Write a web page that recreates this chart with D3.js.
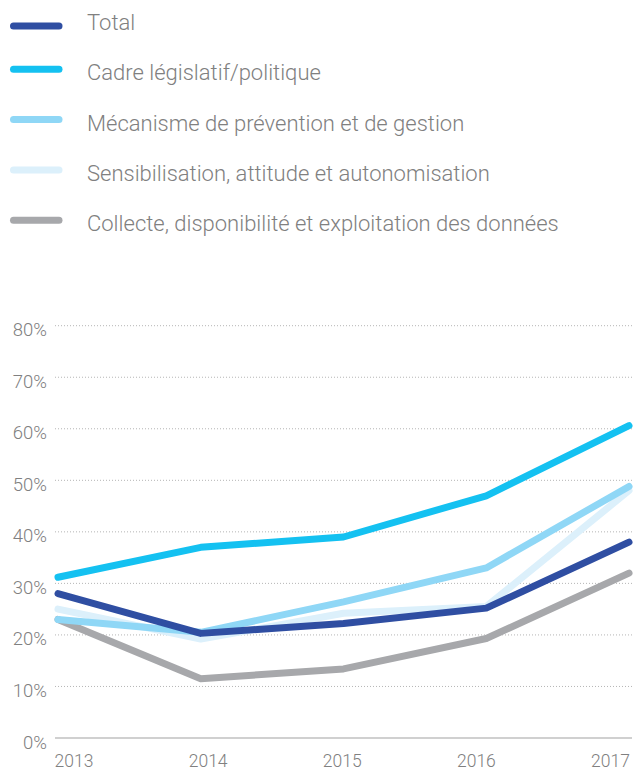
<!DOCTYPE html>
<html>
<head>
<meta charset="utf-8">
<script src="https://cdn.jsdelivr.net/npm/d3@7"></script>
<style>
  html, body { margin: 0; padding: 0; background: #fff; }
  svg { display: block; font-family: Roboto, "Liberation Sans", sans-serif; font-weight: 300; }
</style>
</head>
<body>
<svg id="chart" width="640" height="771"></svg>
<script>
const years = ["2013", "2014", "2015", "2016", "2017"];
const seriesNames = [
  "Total",
  "Cadre législatif/politique",
  "Mécanisme de prévention et de gestion",
  "Sensibilisation, attitude et autonomisation",
  "Collecte, disponibilité et exploitation des données"
];
const seriesColors = ["#2f4ea2", "#14c1f1", "#8fd7f6", "#dcf0fb", "#a7a8ab"];
const totalValues = [28, 20.3, 22.2, 25.2, 38];
const cadreValues = [31.2, 37, 39, 47, 60.6];
const mecanismeValues = [23, 20.5, 26.4, 33, 48.8];
const sensibilisationValues = [25, 19.2, 24.2, 25.5, 48];
const collecteValues = [23, 11.5, 13.4, 19.3, 32];
const yTicks = [0, 10, 20, 30, 40, 50, 60, 70, 80];

const seriesValues = [totalValues, cadreValues, mecanismeValues, sensibilisationValues, collecteValues];
const drawOrder = [3, 4, 2, 1, 0];

const svg = d3.select("#chart");
const textColor = "#808080";

// Legend
const legend = svg.append("g");
seriesNames.forEach((name, i) => {
  const base = 30 + i * 50.3;
  const sy = i === 0 ? base - 4 : base - 11;
  legend.append("line")
    .attr("x1", 13.5).attr("x2", 59)
    .attr("y1", sy).attr("y2", sy)
    .attr("stroke", seriesColors[i])
    .attr("stroke-width", 7)
    .attr("stroke-linecap", "round");
  legend.append("text")
    .attr("x", 87).attr("y", base)
    .attr("font-size", 22)
    .attr("fill", textColor)
    .text(name);
});

// Scales
const x = d3.scalePoint().domain(years).range([58, 629]);
const xLabel = d3.scalePoint().domain(years).range([73.5, 610]);
const y = d3.scaleLinear().domain([0, 80]).range([738, 325.7]);

// Grid
const grid = svg.append("g");
yTicks.filter(t => t > 0).forEach(t => {
  grid.append("line")
    .attr("x1", 55).attr("x2", 632)
    .attr("y1", y(t)).attr("y2", y(t))
    .attr("stroke", "#b5b5b5")
    .attr("stroke-width", 1)
    .attr("stroke-dasharray", "1,2");
});
grid.append("line")
  .attr("x1", 55).attr("x2", 632)
  .attr("y1", y(0)).attr("y2", y(0))
  .attr("stroke", "#d0d0d0")
  .attr("stroke-width", 2);

// Y axis
const yAxis = svg.append("g")
  .attr("transform", "translate(47,0)")
  .call(d3.axisLeft(y).tickValues(yTicks).tickSize(0).tickPadding(0).tickFormat(d => d + "%"));
yAxis.select(".domain").remove();
yAxis.selectAll("text")
  .attr("font-family", "Roboto, 'Liberation Sans', sans-serif")
  .attr("font-weight", 300)
  .attr("font-size", 18.5)
  .attr("fill", textColor)
  .attr("dy", null)
  .attr("y", 10);

// X axis
const xAxis = svg.append("g")
  .attr("transform", "translate(0,767)")
  .call(d3.axisBottom(xLabel).tickSize(0).tickPadding(0));
xAxis.select(".domain").remove();
xAxis.selectAll("text")
  .attr("font-family", "Roboto, 'Liberation Sans', sans-serif")
  .attr("font-weight", 300)
  .attr("font-size", 17.5)
  .attr("fill", textColor)
  .attr("dy", null)
  .attr("y", 0);

// Lines
const line = d3.line()
  .x((d, i) => x(years[i]))
  .y(d => y(d));

drawOrder.forEach(i => {
  svg.append("path")
    .datum(seriesValues[i])
    .attr("d", line)
    .attr("fill", "none")
    .attr("stroke", seriesColors[i])
    .attr("stroke-width", 7)
    .attr("stroke-linecap", "round")
    .attr("stroke-linejoin", "round");
});
</script>
</body>
</html>
